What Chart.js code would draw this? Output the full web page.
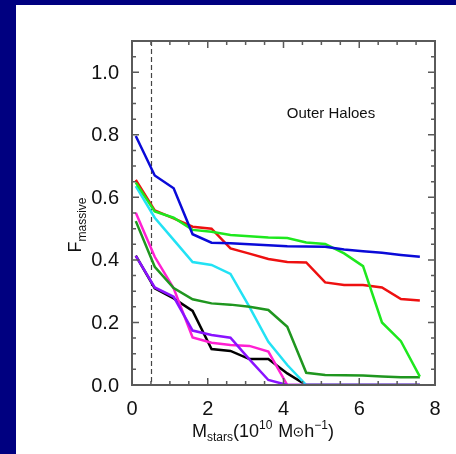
<!DOCTYPE html>
<html>
<head>
<meta charset="utf-8">
<script src="https://cdn.jsdelivr.net/npm/chart.js@4"></script>
<style>
  html, body { margin: 0; padding: 0; background: #000080; }
  #wrap { width: 456px; height: 454px; }
</style>
</head>
<body>
<div id="wrap"><canvas id="myChart" width="456" height="454"></canvas></div>
<script>
// masses (10^10 Msun/h)
const xs = [0.1, 0.6, 1.1, 1.6, 2.1, 2.6, 3.1, 3.6, 4.1, 4.6, 5.1, 5.6, 6.1, 6.6, 7.1, 7.6];

const blueVals    = [0.796, 0.67, 0.629, 0.482, 0.455, 0.453, 0.45, 0.447, 0.444, 0.443, 0.442, 0.433, 0.428, 0.423, 0.416, 0.41];
const redVals     = [0.656, 0.558, 0.533, 0.506, 0.5, 0.437, 0.42, 0.403, 0.393, 0.392, 0.328, 0.32, 0.32, 0.312, 0.275, 0.27];
const greenVals   = [0.647, 0.555, 0.535, 0.496, 0.49, 0.48, 0.476, 0.472, 0.47, 0.456, 0.451, 0.421, 0.38, 0.2, 0.14, 0.027];
const cyanVals    = [0.636, 0.535, 0.464, 0.393, 0.384, 0.355, 0.25, 0.138, 0.064, 0, 0, 0, 0, 0, 0, 0];
const dkGreenVals = [0.524, 0.378, 0.31, 0.274, 0.261, 0.257, 0.25, 0.24, 0.186, 0.039, 0.032, 0.031, 0.03, 0.027, 0.025, 0.025];
const magentaVals = [0.551, 0.41, 0.309, 0.152, 0.135, 0.128, 0.125, 0.107, 0, 0, 0, 0, 0, 0, 0, 0];
const blackVals   = [0.414, 0.309, 0.277, 0.237, 0.115, 0.109, 0.083, 0.083, 0.037, 0, 0, 0, 0, 0, 0, 0];
const purpleVals  = [0.413, 0.312, 0.282, 0.174, 0.16, 0.151, 0.082, 0.016, 0, 0, 0, 0, 0, 0, 0, 0];

const xTickLabels = ['0', '2', '4', '6', '8'];
const yTickLabels = ['0.0', '0.2', '0.4', '0.6', '0.8', '1.0'];
const cutMass = 0.5;
const panelLabel = 'Outer Haloes';

function pts(vals) {
  return vals.map((v, i) => ({ x: xs[i], y: v }));
}

function ds(vals, color) {
  return {
    data: pts(vals),
    borderColor: color,
    borderWidth: 2.5,
    pointRadius: 0,
    tension: 0,
    fill: false
  };
}

// first dataset is drawn on top
const datasets = [
  ds(purpleVals, '#8a12ff'),
  ds(blueVals, '#0a0ad8'),
  ds(greenVals, '#1ee81e'),
  ds(redVals, '#ee1010'),
  ds(dkGreenVals, '#1f961f'),
  ds(cyanVals, '#22e2f4'),
  ds(magentaVals, '#ff20d2'),
  ds(blackVals, '#000000')
];

const FONT = '"Liberation Sans", Arial, sans-serif';
const AXIS = '#5a5a5a';

const decor = {
  id: 'decor',
  beforeDraw(chart) {
    const c = chart.ctx;
    c.save();
    c.fillStyle = '#000080';
    c.fillRect(0, 0, chart.width, chart.height);
    c.fillStyle = '#ffffff';
    c.fillRect(16, 5, chart.width - 16, chart.height - 5);
    c.restore();
  },
  beforeDatasetsDraw(chart) {
    const c = chart.ctx, a = chart.chartArea, xS = chart.scales.x;
    c.save();
    c.strokeStyle = '#444';
    c.lineWidth = 1.2;
    c.setLineDash([5, 3]);
    const px = Math.round(xS.getPixelForValue(cutMass)) + 0.5;
    c.beginPath();
    c.moveTo(px, a.top);
    c.lineTo(px, a.bottom);
    c.stroke();
    c.restore();
  },
  afterDraw(chart) {
    const c = chart.ctx, a = chart.chartArea;
    const xS = chart.scales.x, yS = chart.scales.y;
    c.save();
    c.strokeStyle = AXIS;
    c.lineWidth = 2;
    c.strokeRect(a.left, a.top, a.right - a.left, a.bottom - a.top);

    c.lineWidth = 1.5;
    // x ticks (bottom + top)
    for (let v = 0; v <= 8.001; v += 0.5) {
      const p = xS.getPixelForValue(v);
      const major = Math.abs(v / 2 - Math.round(v / 2)) < 1e-6;
      const len = major ? 7 : 4;
      c.beginPath();
      c.moveTo(p, a.bottom); c.lineTo(p, a.bottom - len);
      c.moveTo(p, a.top); c.lineTo(p, a.top + len);
      c.stroke();
    }
    // y ticks (left + right)
    for (let k = 0; k <= 22; k++) {
      const v = k * 0.05;
      const p = yS.getPixelForValue(v);
      const major = k % 4 === 0;
      const len = major ? 7 : 4;
      c.beginPath();
      c.moveTo(a.left, p); c.lineTo(a.left + len, p);
      c.moveTo(a.right, p); c.lineTo(a.right - len, p);
      c.stroke();
    }

    c.fillStyle = '#111';
    c.font = '20px ' + FONT;
    c.textBaseline = 'middle';
    c.textAlign = 'center';
    xTickLabels.forEach(t => {
      c.fillText(t, xS.getPixelForValue(parseFloat(t)), 409);
    });
    c.textAlign = 'right';
    yTickLabels.forEach(t => {
      c.fillText(t, 119, yS.getPixelForValue(parseFloat(t)) + 1);
    });

    // panel label
    c.font = '15px ' + FONT;
    c.textAlign = 'center';
    c.fillText(panelLabel, 331, 114);

    // x title: M_stars(10^10 M_sun h^-1)
    c.textAlign = 'left';
    c.textBaseline = 'alphabetic';
    let x = 192;
    const base = 437;
    const big = '18px ' + FONT, small = '12px ' + FONT;
    function put(txt, font, dy) {
      c.font = font;
      c.fillText(txt, x, base + dy);
      x += c.measureText(txt).width;
    }
    put('M', big, 0);
    put('stars', small, 4);
    put('(10', big, 0);
    put('10', small, -8);
    x += 6;
    put('M', big, 0);
    // sun symbol
    c.beginPath();
    c.lineWidth = 1.2;
    c.strokeStyle = '#111';
    c.arc(x + 5, base - 5, 4, 0, Math.PI * 2);
    c.stroke();
    c.beginPath();
    c.arc(x + 5, base - 5, 1, 0, Math.PI * 2);
    c.fill();
    x += 11;
    put('h', big, 0);
    put('\u22121', small, -8);
    put(')', big, 0);

    // y title: F_massive rotated
    c.translate(81, 225);
    c.rotate(-Math.PI / 2);
    c.textAlign = 'left';
    c.font = '18px ' + FONT;
    const fw = c.measureText('F').width;
    c.font = '12px ' + FONT;
    const mw = c.measureText('massive').width;
    const start = -(fw + mw) / 2;
    c.font = '18px ' + FONT;
    c.fillText('F', start, 0);
    c.font = '12px ' + FONT;
    c.fillText('massive', start + fw, 5);
    c.restore();
  }
};

const config = {
  type: 'line',
  data: { datasets: datasets },
  options: {
    responsive: false,
    animation: false,
    layout: { padding: { left: 132, right: 21, top: 41, bottom: 69 } },
    plugins: { legend: { display: false }, tooltip: { enabled: false } },
    scales: {
      x: { type: 'linear', min: 0, max: 8, display: false },
      y: { type: 'linear', min: 0, max: 1.1, display: false }
    }
  },
  plugins: [decor]
};

const myChart = new Chart(document.getElementById('myChart'), config);
</script>
</body>
</html>
